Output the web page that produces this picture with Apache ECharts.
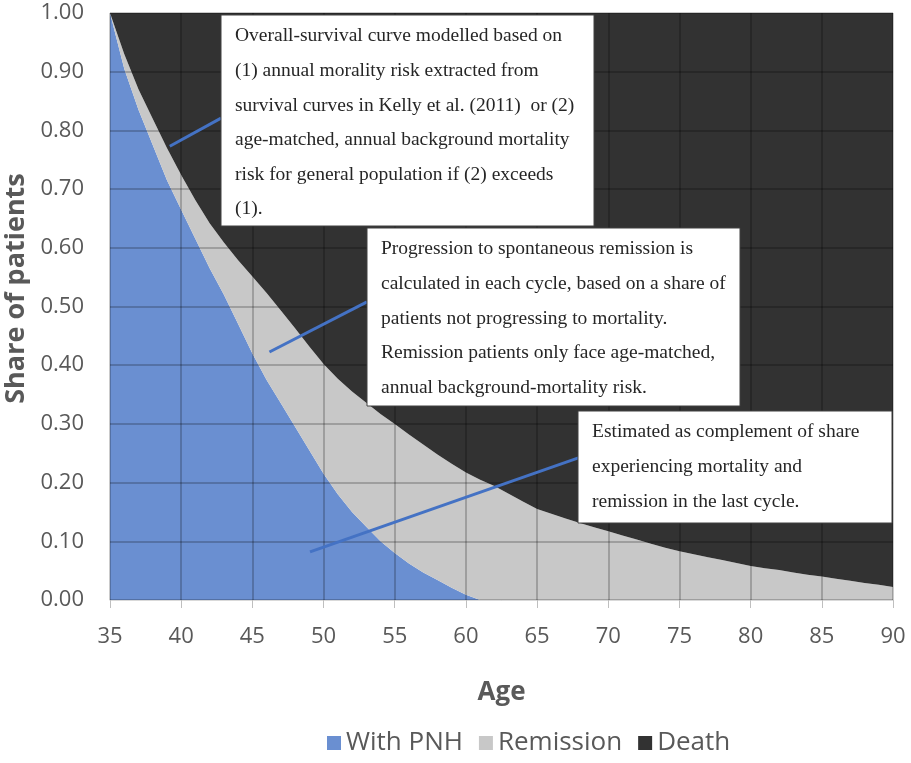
<!DOCTYPE html>
<html>
<head>
<meta charset="utf-8">
<script src="https://cdn.jsdelivr.net/npm/echarts@6/dist/echarts.min.js"></script>
<style>
  html, body { margin: 0; padding: 0; background: #ffffff; }
  #chart { width: 911px; height: 763px; }
</style>
</head>
<body>
<div id="chart"></div>
<script>
// Age of the cohort, one cycle per year
const ages = [35, 36, 37, 38, 39, 40, 41, 42, 43, 44, 45, 46, 47, 48, 49, 50, 51, 52, 53, 54,
  55, 56, 57, 58, 59, 60, 61, 62, 63, 64, 65, 66, 67, 68, 69, 70, 71, 72, 73, 74,
  75, 76, 77, 78, 79, 80, 81, 82, 83, 84, 85, 86, 87, 88, 89, 90];

// Share of patients still living with PNH
const withPNH = [1.000, 0.905, 0.835, 0.775, 0.715, 0.665, 0.615, 0.565, 0.520, 0.470,
  0.420, 0.375, 0.335, 0.295, 0.255, 0.215, 0.180, 0.150, 0.125, 0.100,
  0.080, 0.062, 0.047, 0.034, 0.021, 0.009, 0, 0, 0, 0,
  0, 0, 0, 0, 0, 0, 0, 0, 0, 0,
  0, 0, 0, 0, 0, 0, 0, 0, 0, 0,
  0, 0, 0, 0, 0, 0];

// Share of patients in spontaneous remission
const remission = [0.000, 0.025, 0.035, 0.045, 0.055, 0.059, 0.066, 0.077, 0.089, 0.109,
  0.131, 0.148, 0.158, 0.168, 0.177, 0.187, 0.197, 0.205, 0.211, 0.217,
  0.220, 0.220, 0.218, 0.214, 0.211, 0.208, 0.205, 0.194, 0.181, 0.168,
  0.155, 0.147, 0.139, 0.131, 0.124, 0.117, 0.110, 0.103, 0.096, 0.089,
  0.083, 0.078, 0.073, 0.068, 0.063, 0.058, 0.054, 0.051, 0.047, 0.043,
  0.040, 0.036, 0.033, 0.029, 0.026, 0.022];

// Cumulative share of patients who have died
const death = [0.000, 0.070, 0.130, 0.180, 0.230, 0.276, 0.319, 0.358, 0.391, 0.421,
  0.449, 0.477, 0.507, 0.537, 0.568, 0.598, 0.623, 0.645, 0.664, 0.683,
  0.700, 0.718, 0.735, 0.752, 0.768, 0.783, 0.795, 0.806, 0.819, 0.832,
  0.845, 0.853, 0.861, 0.869, 0.876, 0.883, 0.890, 0.897, 0.904, 0.911,
  0.917, 0.922, 0.927, 0.932, 0.937, 0.942, 0.946, 0.949, 0.953, 0.957,
  0.960, 0.964, 0.967, 0.971, 0.974, 0.978];

const seriesNames = ['With PNH', 'Remission', 'Death'];
const seriesColors = ['#6a8fd1', '#c8c8c8', '#323232'];

// Callout notes: text lines, box in pixels, and leader line ends in [age, share]
const notes = [
  {
    lines: ['Overall-survival curve modelled based on',
      '(1) annual morality risk extracted from',
      'survival curves in Kelly et al. (2011)  or (2)',
      'age-matched, annual background mortality',
      'risk for general population if (2) exceeds',
      '(1).'],
    box: [221, 15, 373, 211],
    leader: [[39.2, 0.773], [42.8, 0.821]]
  },
  {
    lines: ['Progression to spontaneous remission is',
      'calculated in each cycle, based on a share of',
      'patients not progressing to mortality.',
      'Remission patients only face age-matched,',
      'annual background-mortality risk.'],
    box: [367, 228, 373, 178],
    leader: [[46.2, 0.4225], [53.05, 0.508]]
  },
  {
    lines: ['Estimated as complement of share',
      'experiencing mortality and',
      'remission in the last cycle.'],
    box: [578, 411, 314, 112],
    leader: [[49.05, 0.082], [67.9, 0.242]]
  }
];

const seriesData = [withPNH, remission, death];
const labelFont = { fontFamily: 'Open Sans', color: '#595959' };
const gridLine = { show: true, lineStyle: { color: 'rgba(0,0,0,0.28)', width: 1.5 } };

const chart = echarts.init(document.getElementById('chart'), null, { renderer: 'canvas' });

chart.setOption({
  animation: false,
  backgroundColor: '#ffffff',
  grid: { left: 110, right: 18, top: 13, bottom: 163, containLabel: false, outerBoundsMode: 'none' },
  xAxis: {
    type: 'category',
    data: ages.map(String),
    boundaryGap: false,
    z: 4,
    name: 'Age',
    nameLocation: 'middle',
    nameGap: 80,
    nameTextStyle: Object.assign({ fontSize: 26, fontWeight: 'bold' }, labelFont),
    axisLine: { show: true, lineStyle: { color: '#d9d9d9', width: 1 } },
    axisTick: { show: true, interval: 4, length: 8, lineStyle: { color: '#bfbfbf' } },
    axisLabel: Object.assign({ fontSize: 22, margin: 26, interval: 4 }, labelFont),
    splitLine: Object.assign({ interval: 4 }, gridLine)
  },
  yAxis: {
    type: 'value',
    min: 0,
    max: 1,
    interval: 0.1,
    z: 4,
    name: 'Share of patients',
    nameLocation: 'middle',
    nameGap: 74,
    nameTextStyle: Object.assign({ fontSize: 27, fontWeight: 'bold', padding: [0, 0, 0, 36] }, labelFont),
    axisLine: { show: false },
    axisTick: { show: false },
    axisLabel: Object.assign({ fontSize: 22, margin: 26, formatter: v => v.toFixed(2) }, labelFont),
    splitLine: gridLine
  },
  legend: {
    bottom: 2,
    left: 322,
    icon: 'rect',
    itemWidth: 14,
    itemHeight: 14,
    itemGap: 16,
    textStyle: Object.assign({ fontSize: 26 }, labelFont),
    data: seriesNames
  },
  series: seriesNames.map((name, k) => ({
    name: name,
    type: 'line',
    stack: 'share',
    z: 1,
    symbol: 'none',
    lineStyle: { width: 0 },
    itemStyle: { color: seriesColors[k] },
    areaStyle: { color: seriesColors[k], opacity: 1 },
    data: seriesData[k]
  }))
});

// Pixel position of a fractional age, interpolated between neighbouring categories
const ageToX = a => {
  const i = Math.min(Math.floor(a - ages[0]), ages.length - 2);
  const x0 = chart.convertToPixel({ xAxisIndex: 0 }, String(ages[i]));
  const x1 = chart.convertToPixel({ xAxisIndex: 0 }, String(ages[i + 1]));
  return x0 + (x1 - x0) * (a - ages[i]);
};
const toPixel = pt => [ageToX(pt[0]), chart.convertToPixel({ yAxisIndex: 0 }, pt[1])];

// Callout boxes and their leader lines
const graphics = [];
notes.forEach(n => {
  const p0 = toPixel(n.leader[0]);
  const p1 = toPixel(n.leader[1]);
  graphics.push({
    type: 'line',
    z: 20,
    shape: { x1: p0[0], y1: p0[1], x2: p1[0], y2: p1[1] },
    style: { stroke: '#4472c4', lineWidth: 3 }
  });
  const [bx, by, bw, bh] = n.box;
  graphics.push({
    type: 'rect',
    z: 21,
    shape: { x: bx, y: by, width: bw, height: bh },
    style: { fill: '#ffffff', stroke: '#404040', lineWidth: 1 }
  });
  graphics.push({
    type: 'text',
    z: 22,
    x: bx + 14,
    y: by + 4,
    style: {
      text: n.lines.join('\n'),
      fontFamily: 'Liberation Serif',
      fontSize: 19.5,
      lineHeight: 34.6,
      fill: '#262626',
      align: 'left',
      verticalAlign: 'top'
    }
  });
});
chart.setOption({ graphic: graphics });
</script>
</body>
</html>
